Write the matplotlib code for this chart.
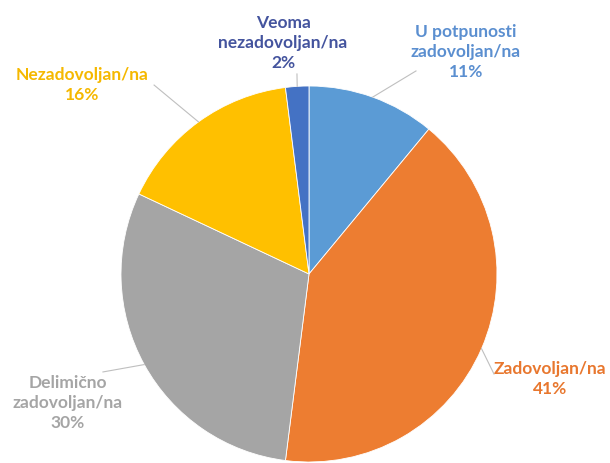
import matplotlib.pyplot as plt
import numpy as np

labels = ['U potpunosti\nzadovoljan/na', 'Zadovoljan/na', 'Delimično\nzadovoljan/na',
          'Nezadovoljan/na', 'Veoma\nnezadovoljan/na']
values = [11, 41, 30, 16, 2]
colors = ['#5b9bd5', '#ed7d31', '#a5a5a5', '#ffc000', '#4472c4']
text_colors = ['#5b8fd0', '#e8772e', '#a5a5a5', '#f5b800', '#44549e']

# label centres and leader-line ends (data coords, pie radius = 1)
label_pos = [(0.835, 1.186), (1.282, -0.553), (-1.282, -0.681), (-1.207, 1.011), (-0.138, 1.234)]
line_end = [(0.569, 1.080), (0.984, -0.532), (-1.096, -0.521), (-0.824, 1.005), (-0.064, 1.064)]

plt.rcParams['font.family'] = ['Lato', 'DejaVu Sans']
fig = plt.figure(figsize=(6.1, 4.64), dpi=100)
ax = fig.add_axes([121/610, 1/464, 376/610, 376/464])
wedges, _ = ax.pie(values, colors=colors, startangle=90, counterclock=False,
                   wedgeprops=dict(edgecolor='white', linewidth=0.6))
ax.set_xlim(-1, 1)
ax.set_ylim(-1, 1)
ax.set_aspect('equal')
ax.axis('off')

for w, lab, v, tc, p, e in zip(wedges, labels, values, text_colors, label_pos, line_end):
    ang = np.deg2rad((w.theta1 + w.theta2) / 2)
    x0, y0 = np.cos(ang), np.sin(ang)
    ax.plot([x0, e[0]], [y0, e[1]], color='#bfbfbf', lw=0.8, clip_on=False)
    ax.text(p[0], p[1], f'{lab}\n{v}%', ha='center', va='center', color=tc,
            fontsize=12.5, fontweight='bold', linespacing=1.3)

fig.savefig('out.png', dpi=100)
